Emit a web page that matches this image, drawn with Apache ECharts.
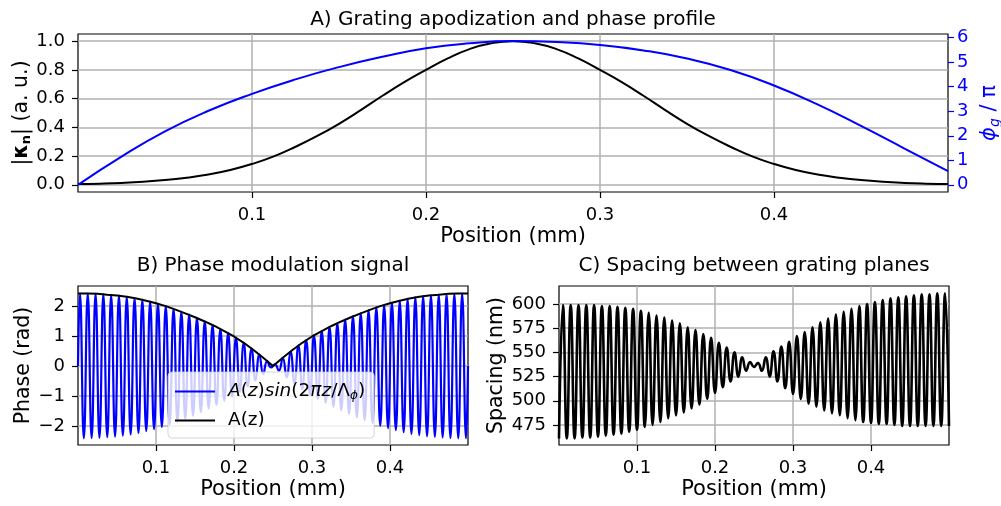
<!DOCTYPE html>
<html>
<head>
<meta charset="utf-8">
<script src="https://cdn.jsdelivr.net/npm/echarts@6/dist/echarts.min.js"></script>
<style>
  html, body { margin: 0; padding: 0; background: #fff; }
  #chart { width: 1001px; height: 506px; }
</style>
</head>
<body>
<div id="chart"></div>
<script>
// ---- data ----
// A) apodization |kappa_n| every 0.0125 mm, grating phase phi_g/pi every 0.025 mm
const kappaStep = 0.0125;
const kappa = [0.005, 0.008, 0.013, 0.021, 0.033, 0.05, 0.072, 0.103, 0.145, 0.198, 0.265,
  0.34, 0.425, 0.52, 0.62, 0.715, 0.80, 0.88, 0.945, 0.985, 1.0,
  0.985, 0.945, 0.88, 0.80, 0.715, 0.62, 0.52, 0.425, 0.34, 0.265,
  0.198, 0.145, 0.103, 0.072, 0.05, 0.033, 0.021, 0.013, 0.008, 0.005];
const phaseStep = 0.025;
const phaseProfile = [0, 1.15, 2.18, 3.02, 3.71, 4.30, 4.80, 5.22, 5.57, 5.77, 5.86,
  5.82, 5.70, 5.48, 5.15, 4.68, 4.05, 3.28, 2.40, 1.48, 0.56];

// B) phase modulation: extremes of A(z)sin(2*pi*z/L), first at 0.0025 mm, every 0.005 mm
const sigFirst = 0.0025;
const sigStep = 0.005;
const sigExtremes = [
  2.41, -2.41, 2.41, -2.40, 2.40, -2.39, 2.38, -2.37, 2.36, -2.35,
  2.34, -2.32, 2.30, -2.28, 2.26, -2.23, 2.20, -2.17, 2.14, -2.10,
  2.07, -2.03, 1.99, -1.95, 1.90, -1.85, 1.80, -1.75, 1.71, -1.66,
  1.60, -1.54, 1.48, -1.42, 1.36, -1.30, 1.23, -1.16, 1.09, -1.02,
  0.94, -0.86, 0.77, -0.68, 0.58, -0.48, 0.38, -0.27, 0.16, -0.05,
  0.05, -0.16, 0.27, -0.38, 0.48, -0.58, 0.68, -0.77, 0.86, -0.94,
  1.02, -1.09, 1.16, -1.23, 1.30, -1.36, 1.42, -1.48, 1.54, -1.60,
  1.66, -1.71, 1.75, -1.80, 1.85, -1.90, 1.95, -1.99, 2.03, -2.07,
  2.10, -2.14, 2.17, -2.20, 2.23, -2.26, 2.28, -2.30, 2.32, -2.34,
  2.35, -2.36, 2.37, -2.38, 2.39, -2.40, 2.40, -2.41, 2.41, -2.41
];
// envelope A(z), every 0.0125 mm
const envStep = 0.0125;
const envelope = [2.41, 2.41, 2.40, 2.37, 2.345, 2.30, 2.245, 2.17, 2.085, 1.99, 1.875,
  1.75, 1.62, 1.48, 1.33, 1.16, 0.98, 0.77, 0.53, 0.27, 0,
  0.27, 0.53, 0.77, 0.98, 1.16, 1.33, 1.48, 1.62, 1.75, 1.875,
  1.99, 2.085, 2.17, 2.245, 2.30, 2.345, 2.37, 2.40, 2.41, 2.41];

// C) spacing between grating planes (nm): troughs / peaks every 0.005 mm from 0
const spStep = 0.005;
const spacing = [
  461, 599, 461, 599, 461, 599, 462, 599, 462, 599,
  463, 598, 464, 598, 465, 597, 466, 596, 468, 595,
  470, 593, 473, 591, 475, 588, 478, 586, 482, 583,
  485, 580, 488, 576, 492, 573, 496, 569, 502, 565,
  508, 560, 514, 555, 520, 550, 525, 545, 531, 540,
  535, 539, 531, 545, 525, 551, 520, 556, 513, 561,
  507, 567, 502, 571, 497, 576, 494, 581, 490, 585,
  487, 589, 485, 592, 482, 595, 480, 598, 478, 600,
  477, 602, 476, 604, 476, 606, 475, 607, 474, 608,
  474, 609, 474, 610, 474, 610, 474, 611, 474, 611,
  474
];

// tick labels
const posTicks = [0.1, 0.2, 0.3, 0.4];
const kappaTicks = [0, 0.2, 0.4, 0.6, 0.8, 1.0];
const phiTicks = [0, 1, 2, 3, 4, 5, 6];
const radTicks = [-2, -1, 0, 1, 2];
const nmTicks = [475, 500, 525, 550, 575, 600];

// ---- build ----
const FONT = 'DejaVu Sans';
const BLUE = '#0000ff';
const GRID = '#b0b0b0';

const pairs = (vals, start, step) => vals.map((v, i) => [start + i * step, v]);

const sigData = [[0, 0]].concat(pairs(sigExtremes, sigFirst, sigStep), [[0.5, 0]]);

function xAxisCfg(gi) {
  return {
    type: 'value', gridIndex: gi, min: 0, max: 0.5,
    name: 'Position (mm)', nameLocation: 'middle', nameGap: 34,
    nameTextStyle: { fontFamily: FONT, fontSize: 21, color: '#000' },
    axisLine: { show: false, onZero: false },
    axisTick: { show: true, length: 6, customValues: posTicks, lineStyle: { color: '#000', width: 1.2 } },
    axisLabel: { customValues: posTicks, margin: 14, fontFamily: FONT, fontSize: 18, color: '#000',
      formatter: v => v.toFixed(1) },
    splitLine: { show: true, lineStyle: { color: GRID, width: 1.5 } }
  };
}

function yAxisCfg(gi, min, max, ticks, fmt, name, gap) {
  return {
    type: 'value', gridIndex: gi, position: 'left', min: min, max: max,
    name: name, nameLocation: 'middle', nameGap: gap, nameRotate: 90,
    nameTextStyle: { fontFamily: FONT, fontSize: 20.5, color: '#000' },
    axisLine: { show: false, onZero: false },
    axisTick: { show: true, length: 6, customValues: ticks, lineStyle: { color: '#000', width: 1.2 } },
    axisLabel: { customValues: ticks, margin: 13, fontFamily: FONT, fontSize: 18, color: '#000', formatter: fmt },
    splitLine: { show: true, lineStyle: { color: GRID, width: 1.5 } }
  };
}

const minus = v => (v < 0 ? '\u2212' + (-v) : String(v));
const gridBox = { show: true, borderColor: '#000', borderWidth: 1.2, backgroundColor: 'transparent',
  containLabel: false, outerBoundsMode: 'none' };

const chart = echarts.init(document.getElementById('chart'), null, { renderer: 'canvas' });

const titleStyle = { fontFamily: FONT, fontSize: 20, fill: '#000', align: 'center', verticalAlign: 'middle' };

const option = {
  animation: false,
  textStyle: { fontFamily: FONT },
  graphic: [
    { type: 'text', x: 513, y: 20, style: Object.assign({ text: 'A) Grating apodization and phase profile' }, titleStyle) },
    { type: 'text', x: 273, y: 266, style: Object.assign({ text: 'B) Phase modulation signal' }, titleStyle) },
    { type: 'text', x: 754, y: 266, style: Object.assign({ text: 'C) Spacing between grating planes' }, titleStyle) },
    // |kappa_n| (a. u.) label, rotated like the other y labels
    { type: 'text', x: 22, y: 113, rotation: Math.PI / 2,
      style: {
        text: '{r||}{b|\u03ba}{bs|n}{r|| (a. u.)}',
        align: 'center', verticalAlign: 'middle', fill: '#000',
        fontFamily: FONT, fontSize: 20.5,
        rich: {
          r: { fontFamily: FONT, fontSize: 20.5, fill: '#000' },
          b: { fontFamily: FONT, fontSize: 20.5, fontWeight: 'bold', fill: '#000' },
          bs: { fontFamily: FONT, fontSize: 13, fontWeight: 'bold', fill: '#000', padding: [9, 0, 0, 0] }
        }
      } }
  ],
  grid: [
    Object.assign({ left: 78, top: 34, width: 870, height: 158 }, gridBox),
    Object.assign({ left: 78, top: 286, width: 390, height: 159 }, gridBox),
    Object.assign({ left: 559, top: 286, width: 390, height: 159 }, gridBox)
  ],
  xAxis: [xAxisCfg(0), xAxisCfg(1), xAxisCfg(2)],
  yAxis: [
    yAxisCfg(0, -0.05, 1.05, kappaTicks, v => v.toFixed(1), '', 43),
    {
      type: 'value', gridIndex: 0, position: 'right', min: -0.293, max: 6.15,
      name: '{i|\u03d5}{s|g}{r| / \u03c0}', nameLocation: 'middle', nameGap: 30, nameRotate: 90,
      nameTextStyle: { color: BLUE, rich: {
        i: { fontFamily: FONT, fontSize: 21, fontStyle: 'italic', color: BLUE },
        s: { fontFamily: FONT, fontSize: 14, fontStyle: 'italic', color: BLUE, padding: [10, 0, 0, 0] },
        r: { fontFamily: FONT, fontSize: 21, color: BLUE }
      } },
      axisLine: { show: false, onZero: false },
      axisTick: { show: true, length: 6, customValues: phiTicks, lineStyle: { color: BLUE, width: 1.2 } },
      axisLabel: { customValues: phiTicks, margin: 9, fontFamily: FONT, fontSize: 18, color: BLUE },
      splitLine: { show: false }
    },
    yAxisCfg(1, -2.63, 2.66, radTicks, minus, 'Phase (rad)', 44),
    yAxisCfg(2, 454.3, 618.6, nmTicks, v => String(v), 'Spacing (nm)', 52)
  ],
  legend: {
    left: 168, top: 372, orient: 'vertical', selectedMode: false,
    icon: 'rect', itemWidth: 40, itemHeight: 2, itemGap: 9,
    padding: [10, 9, 8, 7],
    backgroundColor: 'rgba(255,255,255,0.8)', borderColor: 'rgba(204,204,204,0.8)',
    borderWidth: 1, borderRadius: 4,
    data: ['sig', 'A(z)'],
    formatter: n => (n === 'sig'
      ? '{i|A}{r|(}{i|z}{r|)}{i|sin}{r|(2}{i|\u03c0z}{r|/\u039b}{s|\u03d5}{r|)}'
      : '{r|A(z)}'),
    textStyle: {
      fontFamily: FONT, fontSize: 18, color: '#000', padding: [0, 0, 0, 8],
      rich: {
        i: { fontFamily: FONT, fontSize: 18.5, fontStyle: 'italic' },
        r: { fontFamily: FONT, fontSize: 18.5 },
        s: { fontFamily: FONT, fontSize: 12, fontStyle: 'italic', padding: [9, 0, 0, 0] }
      }
    }
  },
  series: [
    { name: 'kappa', type: 'line', xAxisIndex: 0, yAxisIndex: 0, smooth: true, symbol: 'none',
      data: pairs(kappa, 0, kappaStep), color: '#000', lineStyle: { color: '#000', width: 2 } },
    { name: 'phi', type: 'line', xAxisIndex: 0, yAxisIndex: 1, smooth: true, symbol: 'none',
      data: pairs(phaseProfile, 0, phaseStep), color: BLUE, lineStyle: { color: BLUE, width: 2 } },
    { name: 'sig', type: 'line', xAxisIndex: 1, yAxisIndex: 2, smooth: true, symbol: 'none',
      data: sigData, color: BLUE, itemStyle: { color: BLUE }, lineStyle: { color: BLUE, width: 2.2 } },
    { name: 'A(z)', type: 'line', xAxisIndex: 1, yAxisIndex: 2, smooth: false, symbol: 'none',
      data: pairs(envelope, 0, envStep), color: '#000', itemStyle: { color: '#000' }, lineStyle: { color: '#000', width: 2 } },
    { name: 'spacing', type: 'line', xAxisIndex: 2, yAxisIndex: 3, smooth: true, symbol: 'none',
      data: pairs(spacing, 0, spStep), color: '#000', lineStyle: { color: '#000', width: 2.6 } }
  ]
};

chart.setOption(option);
</script>
</body>
</html>
